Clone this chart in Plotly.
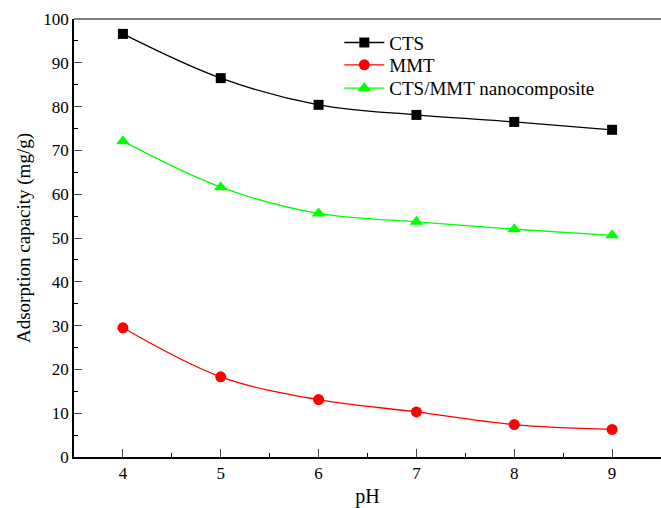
import plotly.graph_objects as go

ph = [4, 5, 6, 7, 8, 9]
cts = [96.6, 86.5, 80.4, 78.1, 76.5, 74.7]
mmt = [29.5, 18.3, 13.1, 10.3, 7.4, 6.3]
nano = [72.1, 61.6, 55.6, 53.7, 52.0, 50.6]

x_ticks = [4, 5, 6, 7, 8, 9]
y_ticks = [0, 10, 20, 30, 40, 50, 60, 70, 80, 90, 100]

FONT = "Liberation Serif, Times New Roman, serif"

fig = go.Figure()
fig.add_trace(go.Scatter(x=ph, y=cts, name="CTS", mode="lines+markers", legend="legend",
                         line=dict(color="black", width=1.3, shape="spline"),
                         marker=dict(symbol="square", size=10, color="black")))
fig.add_trace(go.Scatter(x=ph, y=mmt, name="MMT", mode="lines+markers", legend="legend2",
                         line=dict(color="#ff0000", width=1.3, shape="spline"),
                         marker=dict(symbol="circle", size=11, color="#ff0000")))
fig.add_trace(go.Scatter(x=ph, y=nano, name="CTS/MMT nanocomposite", mode="lines+markers",
                         legend="legend3",
                         line=dict(color="#00ff00", width=1.3, shape="spline"),
                         marker=dict(symbol="triangle-up", size=12, color="#00ff00")))

fig.add_shape(type="line", xref="paper", yref="paper", x0=0, x1=1, y0=1, y1=1,
              line=dict(color="#555555", width=1.5))

def leg(y):
    return dict(x=0.452, y=y, xanchor="left", yanchor="middle",
                bgcolor="rgba(0,0,0,0)", font=dict(family=FONT, size=19),
                itemwidth=40)

fig.update_layout(
    width=661, height=508,
    margin=dict(l=74, r=0, t=19, b=51),
    paper_bgcolor="white", plot_bgcolor="white",
    font=dict(family=FONT, size=17, color="black"),
    showlegend=True,
    legend=leg(0.946),
    legend2=leg(0.895),
    legend3=leg(0.842),
    xaxis=dict(range=[3.5, 9.5], tickvals=x_ticks, ticks="inside", ticklen=8,
               tickwidth=1.3, showline=True, linecolor="black", linewidth=1.5,
               mirror=False, showgrid=False, zeroline=False,
               minor=dict(dtick=0.5, ticks="inside", ticklen=4, tickwidth=1.3, tickcolor="black"),
               title=dict(text="pH", font=dict(family=FONT, size=20), standoff=10),
               tickfont=dict(family=FONT, size=17)),
    yaxis=dict(range=[0, 100], tickvals=y_ticks, ticks="inside", ticklen=8,
               tickwidth=1.3, showline=True, linecolor="black", linewidth=1.5,
               mirror=False, showgrid=False, zeroline=False,
               minor=dict(dtick=5, ticks="inside", ticklen=4, tickwidth=1.3, tickcolor="black"),
               title=dict(text="Adsorption capacity (mg/g)", font=dict(family=FONT, size=19), standoff=8),
               tickfont=dict(family=FONT, size=17)),
)

fig.write_html("out.html")
